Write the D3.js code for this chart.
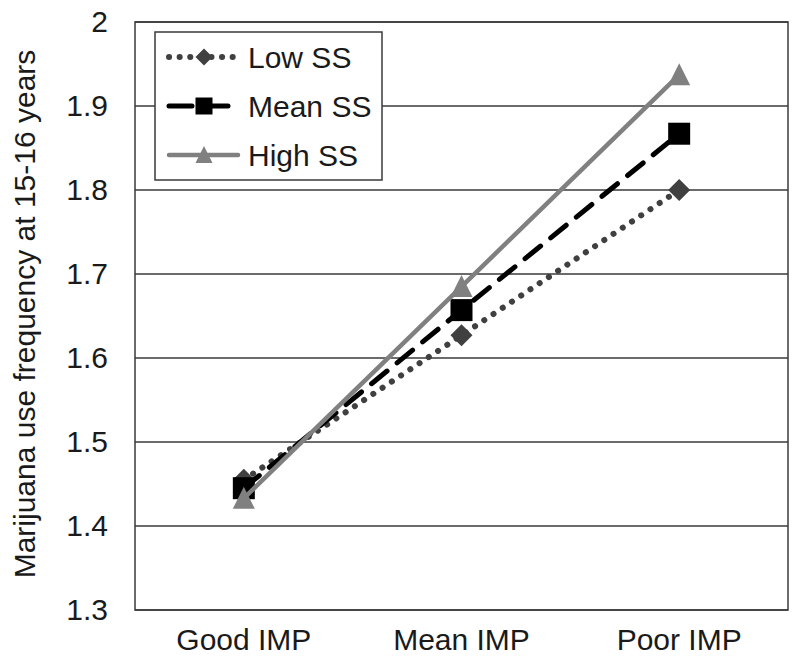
<!DOCTYPE html>
<html>
<head>
<meta charset="utf-8">
<script src="https://cdn.jsdelivr.net/npm/d3@7"></script>
<style>
  html, body { margin: 0; padding: 0; background: #fff; }
  svg { display: block; font-family: "Liberation Sans", Arial, sans-serif; }
</style>
</head>
<body>
<svg id="chart" width="800" height="669"></svg>
<script>
const categories = ["Good IMP", "Mean IMP", "Poor IMP"];
const seriesNames = ["Low SS", "Mean SS", "High SS"];
const lowSS  = [1.455, 1.627, 1.800];
const meanSS = [1.445, 1.657, 1.867];
const highSS = [1.433, 1.685, 1.937];
const yTicks = [1.3, 1.4, 1.5, 1.6, 1.7, 1.8, 1.9, 2];
const yTitle = "Marijuana use frequency at 15-16 years";

const series = [
  { name: seriesNames[0], values: lowSS,  color: "#404040", dash: "0.1 11", width: 6, marker: "diamond" },
  { name: seriesNames[1], values: meanSS, color: "#000000", dash: "20 13", width: 5, marker: "square" },
  { name: seriesNames[2], values: highSS, color: "#808080", dash: null, width: 4.5, marker: "triangle" }
];

const svg = d3.select("#chart");
const m = { left: 135, right: 788, top: 22, bottom: 610 };
const textColor = "#1a1a1a";
const fs = 30;

const x = d3.scaleBand().domain(categories).range([m.left, m.right]);
const y = d3.scaleLinear().domain([1.3, 2]).range([m.bottom, m.top]);

// gridlines
svg.append("g").selectAll("line").data(yTicks).join("line")
  .attr("x1", m.left).attr("x2", m.right)
  .attr("y1", d => y(d)).attr("y2", d => y(d))
  .attr("stroke", "#3a3a3a").attr("stroke-width", 1.5);

// plot border
svg.append("rect")
  .attr("x", m.left).attr("y", m.top)
  .attr("width", m.right - m.left).attr("height", m.bottom - m.top)
  .attr("fill", "none").attr("stroke", "#3a3a3a").attr("stroke-width", 1.5);

// y axis labels
const yAxis = d3.axisLeft(y).tickValues(yTicks).tickFormat(d => d === 2 ? "2" : d3.format(".1f")(d)).tickSize(0).tickPadding(27);
const gy = svg.append("g").attr("transform", `translate(${m.left},0)`).call(yAxis);
gy.select(".domain").remove();
gy.selectAll("text").attr("font-size", fs).attr("fill", textColor).attr("font-family", "Liberation Sans, Arial, sans-serif");

// x axis labels
const xAxis = d3.axisBottom(x).tickSize(0).tickPadding(19);
const gx = svg.append("g").attr("transform", `translate(0,${m.bottom})`).call(xAxis);
gx.select(".domain").remove();
gx.selectAll("text").attr("font-size", fs).attr("fill", textColor).attr("font-family", "Liberation Sans, Arial, sans-serif");

// y title
svg.append("text")
  .attr("transform", `translate(35,${314}) rotate(-90)`)
  .attr("text-anchor", "middle")
  .attr("font-size", fs).attr("fill", textColor)
  .text(yTitle);

function markerPath(type, size) {
  const s = size / 2;
  if (type === "diamond") return `M0,${-s}L${s},0L0,${s}L${-s},0Z`;
  if (type === "square") return `M${-s},${-s}H${s}V${s}H${-s}Z`;
  return `M0,${-s * 1.05}L${s},${s * 0.95}L${-s},${s * 0.95}Z`;
}

const line = d3.line()
  .x((d, i) => x(categories[i]) + x.bandwidth() / 2)
  .y(d => y(d));

series.forEach(s => {
  svg.append("path")
    .attr("d", line(s.values))
    .attr("fill", "none")
    .attr("stroke", s.color)
    .attr("stroke-width", s.width)
    .attr("stroke-linecap", "round")
    .attr("stroke-dasharray", s.dash);
  svg.append("g").selectAll("path").data(s.values).join("path")
    .attr("transform", (d, i) => `translate(${x(categories[i]) + x.bandwidth() / 2},${y(d)})`)
    .attr("d", markerPath(s.marker, 22))
    .attr("fill", s.color);
});

// legend
const lg = svg.append("g");
lg.append("rect").attr("x", 155).attr("y", 32).attr("width", 227).attr("height", 148)
  .attr("fill", "#fff").attr("stroke", "#3a3a3a").attr("stroke-width", 1.5);
const rows = [57, 106, 155];
series.forEach((s, i) => {
  const yy = rows[i];
  lg.append("line").attr("x1", 169).attr("x2", 238).attr("y1", yy).attr("y2", yy)
    .attr("stroke", s.color).attr("stroke-width", s.width)
    .attr("stroke-linecap", "round")
    .attr("stroke-dasharray", s.dash ? (s.marker === "diamond" ? "0.1 10.5" : "23 13") : null);
  lg.append("path").attr("transform", `translate(204,${yy})`)
    .attr("d", markerPath(s.marker, 17)).attr("fill", s.color);
  lg.append("text").attr("x", 248).attr("y", yy).attr("dy", "0.35em")
    .attr("font-size", fs).attr("fill", textColor).text(s.name);
});
</script>
</body>
</html>
